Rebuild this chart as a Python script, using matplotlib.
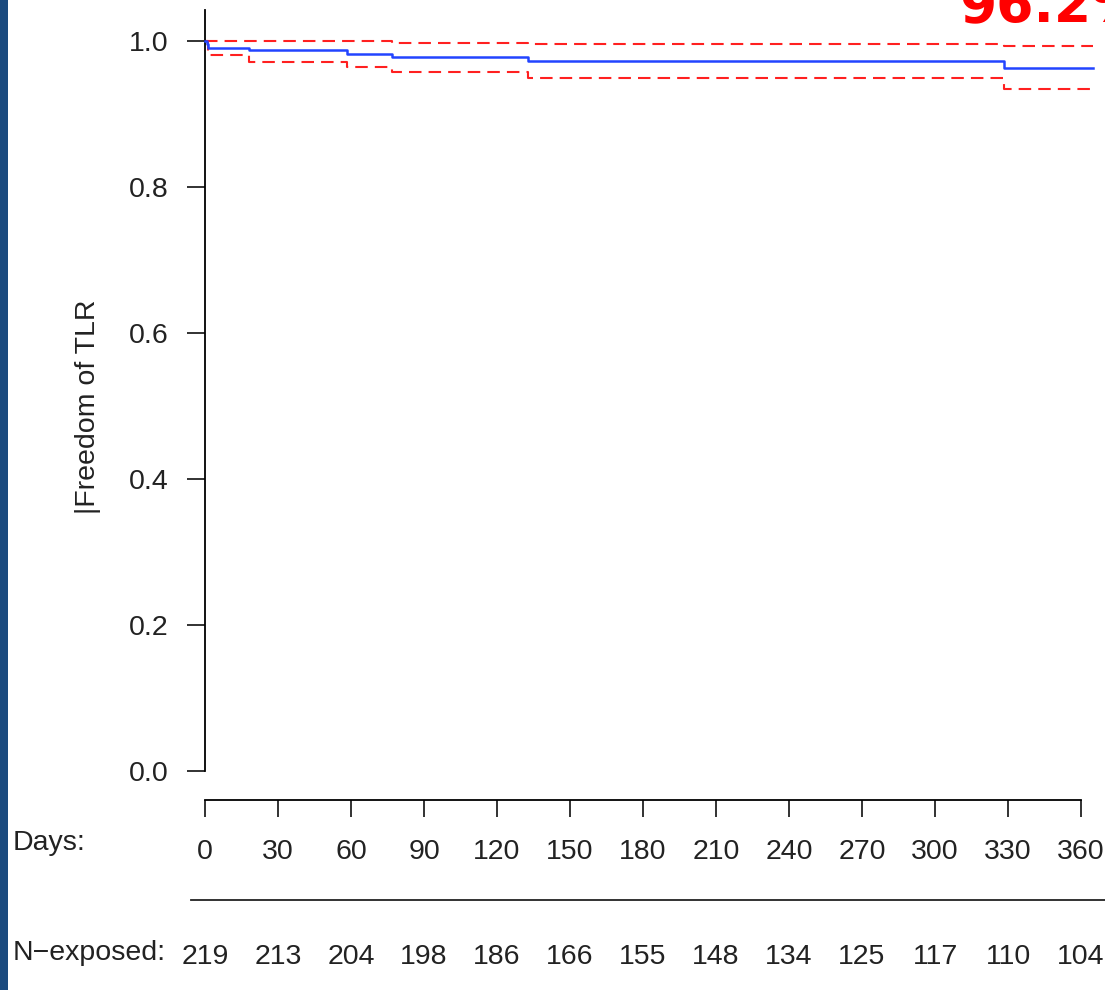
"""
Kaplan-Meier style curve: freedom of TLR over 360 days, with confidence band and risk table
"""

import matplotlib
matplotlib.use("Agg")
import matplotlib.pyplot as plt
from matplotlib.patches import Rectangle
from matplotlib.transforms import blended_transform_factory

# survival estimate (step function, value holds after each time)
km_days = [0, 0.7, 1.3, 18.1, 58.2, 76.7, 132.8, 328.4, 365]
km_surv = [1.0, 0.9955, 0.9908, 0.9877, 0.9826, 0.9777, 0.9722, 0.9626, 0.9626]

# confidence band
upper_days = [0, 76.7, 132.8, 328.4, 365]
upper_surv = [1.0, 0.9977, 0.9955, 0.9932, 0.9932]
lower_days = [0, 1.3, 18.1, 58.2, 76.7, 132.8, 328.4, 365]
lower_surv = [1.0, 0.9808, 0.9716, 0.9648, 0.9571, 0.9493, 0.9338, 0.9338]

day_ticks = [0, 30, 60, 90, 120, 150, 180, 210, 240, 270, 300, 330, 360]
n_exposed = [219, 213, 204, 198, 186, 166, 155, 148, 134, 125, 117, 110, 104]
y_ticks = [0.0, 0.2, 0.4, 0.6, 0.8, 1.0]

W, H = 1105, 990
FS = 20.5
TXT = "#222222"
fig = plt.figure(figsize=(W / 100, H / 100), dpi=100)
fig.patch.set_facecolor("white")
plt.rcParams["font.family"] = ["Liberation Sans", "DejaVu Sans"]

# dark blue slide strip on the left edge
fig.patches.append(Rectangle((0, 0), 8 / W, 1, transform=fig.transFigure,
                             facecolor="#1b4a7e", edgecolor="none", zorder=0))

# axes: x=0 at px 205, 2.433 px per day; y 0 at px 771, 1.0 at px 41
px_day = (1081 - 205) / 360
x_right = (W - 205) / px_day
y_top = 1 + (41 - 10) / 730
ax = fig.add_axes([205 / W, (H - 771) / H, (W - 205) / W, (771 - 10) / H])
ax.set_xlim(0, x_right)
ax.set_ylim(0, y_top)
ax.set_facecolor("none")

ax.step(km_days, km_surv, where="post", color="#2244ff", lw=1.8, clip_on=False, zorder=3)
ax.step(upper_days, upper_surv, where="post", color="#ff2020", lw=1.5,
        dashes=(6, 3.4), clip_on=False, zorder=2)
ax.step(lower_days, lower_surv, where="post", color="#ff2020", lw=1.5,
        dashes=(6, 3.4), clip_on=False, zorder=2)

for s in ["top", "right"]:
    ax.spines[s].set_visible(False)
ax.spines["left"].set_linewidth(1.3)
ax.spines["bottom"].set_linewidth(1.3)
ax.spines["bottom"].set_position(("outward", 21))
ax.spines["bottom"].set_bounds(0, 360)

ax.set_yticks(y_ticks)
ax.set_yticklabels([f"{v:.1f}" for v in y_ticks])
ax.set_xticks(day_ticks)
ax.set_xticklabels([str(d) for d in day_ticks])
ax.tick_params(axis="y", direction="out", length=13, width=1.3, pad=13, labelsize=FS, colors=TXT)
ax.tick_params(axis="x", direction="out", length=12, width=1.3, pad=16, labelsize=FS, colors=TXT)

ax.set_ylabel("|Freedom of TLR", fontsize=FS, color=TXT, va="center")
ax.yaxis.set_label_coords(88 / W, 1 - 407 / H, transform=fig.transFigure)

# risk table
bt = blended_transform_factory(ax.transData, fig.transFigure)
fig.text(13 / W, 1 - 843 / H, "Days:", fontsize=FS, color=TXT, va="center", ha="left")
fig.text(13 / W, 1 - 953 / H, "N\u2212exposed:", fontsize=FS, color=TXT, va="center", ha="left")
for d, n in zip(day_ticks, n_exposed):
    ax.text(d, 1 - 957 / H, str(n), transform=bt, fontsize=FS, color=TXT,
            ha="center", va="center", clip_on=False)
ax.plot([-14 / px_day, x_right], [1 - 900 / H, 1 - 900 / H], transform=bt,
        color=TXT, lw=1.3, clip_on=False)

# headline value, cropped at the top edge
fig.text(959 / W, 1 - 22 / H, "96.2%", fontsize=38.5, fontweight="bold", color="#ff0000",
         family="DejaVu Sans", ha="left", va="baseline")

fig.savefig("out.png", dpi=100, facecolor="white")
